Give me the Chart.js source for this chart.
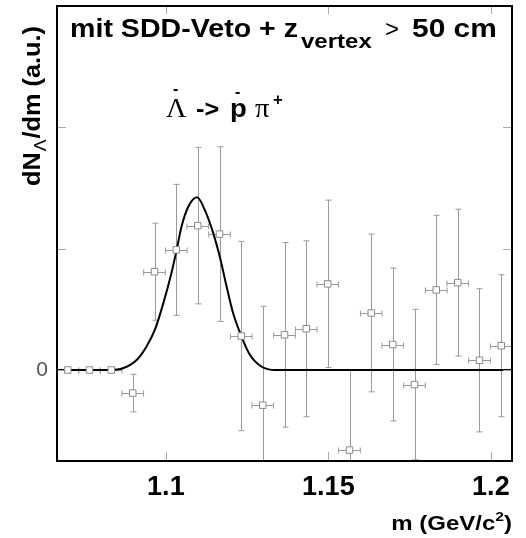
<!DOCTYPE html>
<html>
<head>
<meta charset="utf-8">
<script src="https://cdn.jsdelivr.net/npm/chart.js@4"></script>
<style>
  body { margin: 0; background: #fff; }
  #wrap { width: 526px; height: 538px; }
</style>
</head>
<body>
<div id="wrap"><canvas id="myChart"></canvas></div>
<script>
// histogram bin centres, m (GeV/c^2)
const massBins = [1.0698, 1.0765, 1.0832, 1.0898, 1.0965, 1.1032, 1.1098, 1.1165, 1.1232, 1.1298,
  1.1365, 1.1432, 1.1498, 1.1565, 1.1632, 1.1698, 1.1765, 1.1832, 1.1898, 1.1965, 1.2032];
// dN/dm in arbitrary units, with the vertical error
const yields = [0, 0, 0, -0.19, 0.81, 0.99, 1.19, 1.12, 0.28, -0.29,
  0.29, 0.34, 0.71, -0.66, 0.47, 0.21, -0.12, 0.66, 0.72, 0.08, 0.20];
const yieldErrors = [0, 0, 0, 0.155, 0.40, 0.54, 0.645, 0.72, 0.78, 0.815,
  0.76, 0.725, 0.69, 0.66, 0.65, 0.63, 0.62, 0.615, 0.605, 0.59, 0.585];
const binHalfWidth = 0.00333;

// fitted peak
const fitMass = [1.0665, 1.0827, 1.0868, 1.0910, 1.0940, 1.0966, 1.0992, 1.1017, 1.1033, 1.1048,
  1.1069, 1.1096, 1.1120, 1.1146, 1.1166, 1.1187, 1.1207, 1.1233, 1.1259, 1.1295, 1.1336, 1.2065];
const fitValues = [0, 0, 0.014, 0.082, 0.192, 0.33, 0.549, 0.797, 0.988, 1.18,
  1.345, 1.423, 1.318, 1.126, 0.933, 0.686, 0.467, 0.274, 0.124, 0.027, 0, 0];

const xTicks = [1.1, 1.15, 1.2];
const yTicks = [0, 1, 2];

const SANS = '"Liberation Sans", Arial, sans-serif';
const SERIF = '"Liberation Serif", "Times New Roman", serif';
const WIDE = 1.2; // the original lettering runs wider than Arial

// text piece at an absolute x, stretched sideways by sx
function piece(ctx, text, font, x, y, sx) {
  ctx.save();
  ctx.font = font;
  ctx.translate(x, y);
  ctx.scale(sx || 1, 1);
  ctx.fillText(text, 0, 0);
  ctx.restore();
}
function pieceWidth(ctx, text, font, sx) {
  ctx.font = font;
  return ctx.measureText(text).width * (sx || 1);
}

const decor = {
  id: 'decor',
  beforeDatasetsDraw(chart) {
    const { ctx, chartArea: a, scales: { x, y } } = chart;
    ctx.save();
    ctx.beginPath();
    ctx.rect(a.left, a.top, a.right - a.left, a.bottom - a.top);
    ctx.clip();
    ctx.strokeStyle = '#9a9a9a';
    ctx.lineWidth = 1;
    massBins.forEach((m, i) => {
      const px = Math.round(x.getPixelForValue(m)) + 0.5;
      const py = Math.round(y.getPixelForValue(yields[i])) + 0.5;
      const x0 = x.getPixelForValue(m - binHalfWidth);
      const x1 = x.getPixelForValue(m + binHalfWidth);
      ctx.beginPath();
      ctx.moveTo(x0, py); ctx.lineTo(x1, py);
      ctx.moveTo(x0, py - 3); ctx.lineTo(x0, py + 3);
      ctx.moveTo(x1, py - 3); ctx.lineTo(x1, py + 3);
      if (yieldErrors[i] > 0) {
        const y0 = y.getPixelForValue(yields[i] + yieldErrors[i]);
        const y1 = y.getPixelForValue(yields[i] - yieldErrors[i]);
        ctx.moveTo(px, y0); ctx.lineTo(px, y1);
        ctx.moveTo(px - 3, y0); ctx.lineTo(px + 3, y0);
        ctx.moveTo(px - 3, y1); ctx.lineTo(px + 3, y1);
      }
      ctx.stroke();
    });
    ctx.restore();
  },
  afterDraw(chart) {
    const { ctx, chartArea: a, scales: { x, y } } = chart;
    ctx.save();
    // inward tick marks
    ctx.strokeStyle = '#aaa';
    ctx.lineWidth = 1;
    ctx.beginPath();
    xTicks.forEach(v => {
      const px = Math.round(x.getPixelForValue(v)) + 0.5;
      ctx.moveTo(px, a.bottom); ctx.lineTo(px, a.bottom - 9);
      ctx.moveTo(px, a.top); ctx.lineTo(px, a.top + 8);
    });
    yTicks.forEach(v => {
      const py = Math.round(y.getPixelForValue(v)) + 0.5;
      ctx.moveTo(a.left, py); ctx.lineTo(a.left + 9, py);
      ctx.moveTo(a.right, py); ctx.lineTo(a.right - 9, py);
    });
    ctx.stroke();
    // frame
    ctx.strokeStyle = '#000';
    ctx.lineWidth = 2;
    ctx.strokeRect(a.left, a.top, a.right - a.left, a.bottom - a.top);

    ctx.fillStyle = '#000';
    ctx.textBaseline = 'alphabetic';
    ctx.textAlign = 'left';

    // headline inside the frame
    const big = 'bold 26px ' + SANS;
    piece(ctx, 'mit SDD-Veto + z', big, 70, 37, 1.1);
    piece(ctx, 'vertex', 'bold 20px ' + SANS, 301, 48, WIDE);
    piece(ctx, '>', '24px ' + SANS, 385, 37, 1.0);
    piece(ctx, '50 cm', big, 412, 37, 1.15);

    // decay channel
    piece(ctx, '\u039B', '27px ' + SERIF, 166, 117, 1.05);
    piece(ctx, '-', 'bold 16px ' + SANS, 173, 94, 1);
    piece(ctx, '->', 'bold 24px ' + SANS, 196, 117, 1.05);
    piece(ctx, 'p', 'bold 25px ' + SANS, 230, 117, 1.1);
    piece(ctx, '-', 'bold 16px ' + SANS, 235, 97, 1);
    piece(ctx, '\u03C0', '27px ' + SERIF, 255, 117, 1.05);
    piece(ctx, '+', 'bold 16px ' + SANS, 273, 105, 1.05);

    // x axis title, right aligned on the frame
    const f20 = 'bold 20px ' + SANS, f13 = 'bold 13px ' + SANS;
    const w1 = pieceWidth(ctx, 'm (GeV/c', f20, WIDE);
    const w2 = pieceWidth(ctx, '2', f13, WIDE);
    const w3 = pieceWidth(ctx, ')', f20, WIDE);
    let tx = 512 - (w1 + w2 + w3);
    piece(ctx, 'm (GeV/c', f20, tx, 530, WIDE); tx += w1;
    piece(ctx, '2', f13, tx, 521, WIDE); tx += w2;
    piece(ctx, ')', f20, tx, 530, WIDE);

    // y axis title, reading upwards
    ctx.translate(40, 186);
    ctx.rotate(-Math.PI / 2);
    const f23 = 'bold 23px ' + SANS;
    const d1 = pieceWidth(ctx, 'dN', f23, 1.1);
    piece(ctx, 'dN', f23, 0, 0, 1.1);
    piece(ctx, '\u039B', '16px ' + SANS, d1 + 1, 6, 1.1);
    const d2 = pieceWidth(ctx, '\u039B', '16px ' + SANS, 1.1);
    piece(ctx, '/dm (a.u.)', f23, d1 + d2 + 2, 0, 1.1);
    ctx.restore();
  }
};

new Chart(document.getElementById('myChart'), {
  type: 'scatter',
  data: {
    datasets: [
      {
        label: 'data',
        data: massBins.map((m, i) => ({ x: m, y: yields[i] })),
        pointStyle: 'rect',
        pointRadius: 4.6,
        pointBackgroundColor: '#fff',
        pointBorderColor: '#8a8a8a',
        pointBorderWidth: 1,
        showLine: false,
        order: 0
      },
      {
        label: 'fit',
        data: fitMass.map((m, i) => ({ x: m, y: fitValues[i] })),
        showLine: true,
        pointRadius: 0,
        borderColor: '#000',
        borderWidth: 2,
        cubicInterpolationMode: 'monotone',
        order: 1
      }
    ]
  },
  options: {
    responsive: true,
    maintainAspectRatio: false,
    animation: false,
    layout: { padding: { top: 6, right: 14, left: 0, bottom: 0 } },
    plugins: { legend: { display: false }, tooltip: { enabled: false } },
    scales: {
      x: {
        type: 'linear',
        min: 1.0665,
        max: 1.2065,
        afterBuildTicks: s => { s.ticks = xTicks.map(v => ({ value: v })); },
        afterFit: s => { s.height = 77; s.paddingLeft = 0; s.paddingRight = 0; },
        grid: { display: false, drawTicks: false },
        border: { display: false },
        ticks: {
          autoSkip: false,
          maxRotation: 0,
          padding: 10,
          color: '#000',
          font: { family: SANS, size: 27, weight: 'bold' },
          callback: v => String(v)
        }
      },
      y: {
        type: 'linear',
        min: -0.75,
        max: 3,
        afterBuildTicks: s => { s.ticks = yTicks.map(v => ({ value: v })); },
        afterFit: s => { s.width = 57; s.paddingTop = 0; s.paddingBottom = 0; },
        grid: { display: false, drawTicks: false },
        border: { display: false },
        ticks: {
          padding: 9,
          color: '#555',
          font: { family: SANS, size: 21 },
          callback: v => (v === 0 ? '0' : '')
        }
      }
    }
  },
  plugins: [decor]
});
</script>
</body>
</html>
